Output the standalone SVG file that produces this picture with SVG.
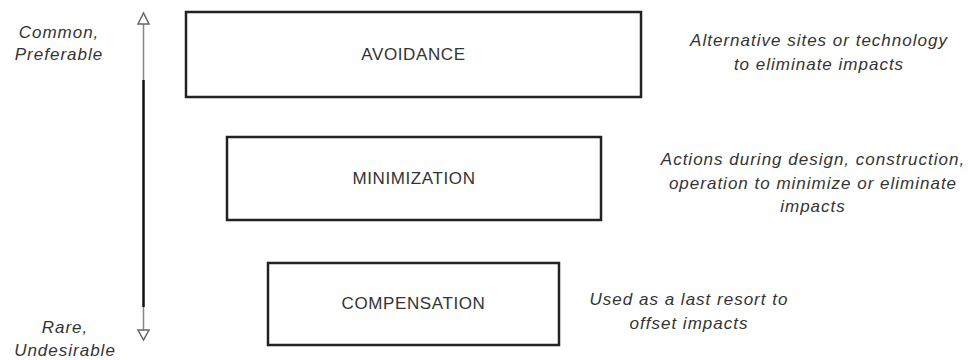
<svg xmlns="http://www.w3.org/2000/svg" width="976" height="360" viewBox="0 0 976 360">
<style>
.box{fill:#fff;stroke:#222;stroke-width:2.5}
.lbl{font-family:"Liberation Sans",Arial,sans-serif;font-size:17px;letter-spacing:0.6px;fill:#333;text-anchor:middle}
.note{font-family:"Liberation Sans",Arial,sans-serif;font-size:17px;letter-spacing:1px;font-style:italic;fill:#333;text-anchor:middle}
.head{fill:#fff;stroke:#666;stroke-width:1.5}
</style>
<rect width="976" height="360" fill="#fff"/>
<g id="connectors">
<line x1="143.5" y1="24" x2="143.5" y2="80" stroke="#888" stroke-width="1.5"/>
<line x1="143.5" y1="80" x2="143.5" y2="307" stroke="#111" stroke-width="2.5"/>
<line x1="143.5" y1="307" x2="143.5" y2="330" stroke="#888" stroke-width="1.5"/>
<polygon class="head" points="143.5,13 138,24 149,24"/>
<polygon class="head" points="138,330 149,330 143.5,340"/>
</g>
<g id="scale-top"><text class="note" x="59" y="38">Common,</text><text class="note" x="59" y="60">Preferable</text></g>
<g id="scale-bottom"><text class="note" x="65" y="333">Rare,</text><text class="note" x="65" y="356">Undesirable</text></g>
<g id="avoidance"><rect class="box" x="186" y="12" width="455" height="85"/><text class="lbl" x="413.5" y="60">AVOIDANCE</text></g>
<g id="minimization"><rect class="box" x="227" y="137" width="374" height="83"/><text class="lbl" x="414" y="184">MINIMIZATION</text></g>
<g id="compensation"><rect class="box" x="268" y="263" width="291" height="82"/><text class="lbl" x="413.5" y="309">COMPENSATION</text></g>
<g id="note-avoidance"><text class="note" x="819" y="46">Alternative sites or technology</text><text class="note" x="819" y="70">to eliminate impacts</text></g>
<g id="note-minimization"><text class="note" x="813" y="165">Actions during design, construction,</text><text class="note" x="813" y="189">operation to minimize or eliminate</text><text class="note" x="813" y="212">impacts</text></g>
<g id="note-compensation"><text class="note" x="689" y="305">Used as a last resort to</text><text class="note" x="689" y="329">offset impacts</text></g>
</svg>
